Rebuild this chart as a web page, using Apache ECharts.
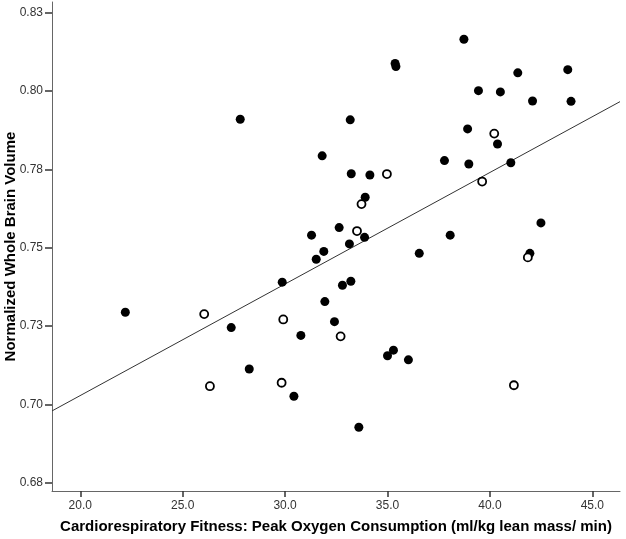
<!DOCTYPE html>
<html>
<head>
<meta charset="utf-8">
<script src="https://cdn.jsdelivr.net/npm/echarts@6/dist/echarts.min.js"></script>
<style>html,body{margin:0;padding:0;background:#fff;}#c{width:626px;height:539px;}</style>
</head>
<body>
<div id="c"></div>
<script>
// Filled circles: [fitness, brain volume]
const filledPoints = [
  [22.20,0.7294],[27.37,0.7245],[29.86,0.7390],[30.77,0.7220],[28.25,0.7113],[30.43,0.7026],
  [33.18,0.7908],[31.81,0.7793],[33.23,0.7736],[34.14,0.7732],[33.91,0.7661],[32.64,0.7564],
  [33.88,0.7533],[31.29,0.7540],[33.14,0.7512],[31.89,0.7488],[31.52,0.7463],[36.55,0.7482],
  [38.06,0.7540],[37.78,0.7778],[38.97,0.7767],[38.91,0.7879],[33.21,0.7393],[32.80,0.7380],
  [31.94,0.7328],[32.41,0.7264],[35.29,0.7173],[35.00,0.7155],[36.02,0.7142],[33.60,0.6927],
  [38.73,0.8165],[41.36,0.8058],[43.80,0.8068],[39.44,0.8001],[40.51,0.7997],[42.08,0.7968],
  [43.96,0.7967],[40.37,0.7831],[41.02,0.7771],[42.49,0.7579],[41.95,0.7482],[27.81,0.7910],
  [35.37,0.8088],[35.41,0.8078]
];
// Open circles
const openPoints = [
  [26.05,0.7288],[29.91,0.7271],[26.33,0.7058],[29.83,0.7069],[34.97,0.7735],[33.73,0.7639],
  [33.51,0.7553],[32.71,0.7217],[40.21,0.7864],[39.62,0.7711],[41.85,0.7469],[41.17,0.7061]
];
// Fit line end points
const fitLine = [[18.62,0.6979],[46.35,0.7966]];
const xTicks = [20,25,30,35,40,45];
const yTicks = [0.675,0.70,0.725,0.75,0.775,0.80,0.825];

const chart = echarts.init(document.getElementById('c'));
const font = '"Liberation Sans", Arial, sans-serif';
chart.setOption({
  animation:false,
  backgroundColor:'#fff',
  grid:{left:52,right:6,top:2,bottom:48,containLabel:false,outerBoundsMode:'none'},
  xAxis:{
    type:'value', min:18.62, max:46.35,
    name:'Cardiorespiratory Fitness: Peak Oxygen Consumption (ml/kg lean mass/ min)',
    nameLocation:'middle', nameGap:28, nameMoveOverlap:false,
    nameTextStyle:{fontFamily:font,fontSize:15,fontWeight:'bold',color:'#000'},
    axisLine:{show:true,lineStyle:{color:'#666',width:1}},
    axisTick:{show:true,length:6,lineStyle:{color:'#333',width:1.5},customValues:xTicks},
    axisLabel:{fontFamily:font,fontSize:12,color:'#333',margin:9,customValues:xTicks,
      formatter:v=>Number(v).toFixed(1)},
    splitLine:{show:false}
  },
  yAxis:{
    type:'value', min:0.67235, max:0.8284,
    name:'Normalized Whole Brain Volume',
    nameLocation:'middle', nameGap:34, nameMoveOverlap:false,
    nameTextStyle:{fontFamily:font,fontSize:15,fontWeight:'bold',color:'#000'},
    axisLine:{show:true,lineStyle:{color:'#666',width:1}},
    axisTick:{show:true,length:7,lineStyle:{color:'#333',width:1.5},customValues:yTicks},
    axisLabel:{fontFamily:font,fontSize:12,color:'#333',margin:9,customValues:yTicks,
      formatter:v=>(Math.round(v*100)/100).toFixed(2)},
    splitLine:{show:false}
  },
  series:[
    {type:'line',data:fitLine,symbol:'none',lineStyle:{color:'#333',width:1},z:1,silent:true},
    {type:'scatter',data:filledPoints,symbol:'circle',symbolSize:9,
      itemStyle:{color:'#000',borderColor:'#000',borderWidth:0,opacity:1},z:3},
    {type:'scatter',data:openPoints,symbol:'circle',symbolSize:8,
      itemStyle:{color:'#fff',borderColor:'#000',borderWidth:1.8,opacity:1},z:4}
  ]
});
</script>
</body>
</html>
